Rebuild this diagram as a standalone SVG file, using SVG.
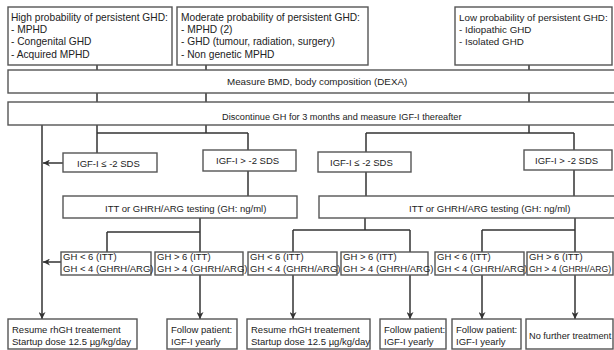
<svg xmlns="http://www.w3.org/2000/svg" width="614" height="350" viewBox="0 0 614 350">
<style>
.box{fill:#fff;stroke:#555;stroke-width:1.4}
.t{font-family:"Liberation Sans",Arial,sans-serif;font-size:9.5px;fill:#222}
.tt{font-size:10.2px}
.c{stroke:#333;stroke-width:1.5;fill:none}
</style>
<defs>
<marker id="ad" viewBox="0 0 10 10" refX="10" refY="5" markerWidth="7" markerHeight="7" markerUnits="userSpaceOnUse" orient="auto">
<path d="M0,0 L10,5 L0,10 L3,5 z" fill="#333"/>
</marker>
</defs>
<rect width="614" height="350" fill="#fff"/>
<g id="connectors">
<path class="c" d="M97,65V70M206,65V70M529,65V70"/>
<path class="c" d="M97,93V102M206,93V102M529,93V102"/>
<path class="c" d="M42,125V319" marker-end="url(#ad)"/>
<path class="c" d="M97,125V153M206,125V133M97,133H248M248,133V150"/>
<path class="c" d="M529,125V133M366,133H574M366,133V152M574,133V150"/>
<path class="c" d="M63,163H43" marker-end="url(#ad)"/>
<path class="c" d="M248,171V196M366,172V196M574,170V196"/>
<path class="c" d="M200,218V252M107,232H200M107,232V252"/>
<path class="c" d="M61,262H43" marker-end="url(#ad)"/>
<path class="c" d="M200,275V319" marker-end="url(#ad)"/>
<path class="c" d="M365,218V230M293,230H410M293,230V252M410,230V252M575,218V252M482,230H575M482,230V252"/>
<path class="c" d="M293,275V319" marker-end="url(#ad)"/>
<path class="c" d="M410,275V319" marker-end="url(#ad)"/>
<path class="c" d="M482,275V319" marker-end="url(#ad)"/>
<path class="c" d="M575,275V319" marker-end="url(#ad)"/>
</g>
<g id="high"><rect class="box" x="8" y="7" width="164" height="58"/>
<text class="t tt" x="11" y="20.5">High probability of persistent GHD:</text>
<text class="t tt" x="11" y="33">- MPHD</text>
<text class="t tt" x="11" y="45">- Congenital GHD</text>
<text class="t tt" x="11" y="57.5">- Acquired MPHD</text></g>
<g id="moderate"><rect class="box" x="177" y="7" width="191" height="58"/>
<text class="t tt" x="181" y="20.5">Moderate probability of persistent GHD:</text>
<text class="t tt" x="181" y="33">- MPHD (2)</text>
<text class="t tt" x="181" y="45">- GHD (tumour, radiation, surgery)</text>
<text class="t tt" x="181" y="57.5">- Non genetic MPHD</text></g>
<g id="low"><rect class="box" x="455" y="7" width="157" height="58"/>
<text class="t" x="459" y="20.5" style="font-size:9.8px">Low probability of persistent GHD:</text>
<text class="t" x="459" y="33" style="font-size:9.8px">- Idiopathic GHD</text>
<text class="t" x="459" y="45" style="font-size:9.8px">- Isolated GHD</text></g>
<g id="measure"><rect class="box" x="8" y="70" width="612" height="23"/>
<text class="t" x="227" y="85" style="font-size:9.8px">Measure BMD, body composition (DEXA)</text></g>
<g id="discontinue"><rect class="box" x="8" y="102" width="612" height="23"/>
<text class="t" x="222" y="120" style="font-size:9.2px">Discontinue GH for 3 months and measure IGF-I thereafter</text></g>
<g id="igf-le-left"><rect class="box" x="63" y="153" width="94" height="19"/>
<text class="t" x="77" y="166.5">IGF-I ≤ -2 SDS</text></g>
<g id="igf-gt-left"><rect class="box" x="203" y="150" width="93" height="21"/>
<text class="t" x="216" y="164">IGF-I &gt; -2 SDS</text></g>
<g id="igf-le-right"><rect class="box" x="318" y="152" width="93" height="20"/>
<text class="t" x="330" y="166">IGF-I ≤ -2 SDS</text></g>
<g id="igf-gt-right"><rect class="box" x="524" y="150" width="88" height="20"/>
<text class="t" x="535" y="164">IGF-I &gt; -2 SDS</text></g>
<g id="itt-left"><rect class="box" x="63" y="196" width="234" height="22"/>
<text class="t" x="105" y="211.5">ITT or GHRH/ARG testing (GH: ng/ml)</text></g>
<g id="itt-right"><rect class="box" x="319" y="196" width="300" height="22"/>
<text class="t" x="409" y="211.5">ITT or GHRH/ARG testing (GH: ng/ml)</text></g>
<g id="gh1"><rect class="box" x="61" y="252" width="90" height="23"/>
<text class="t" x="63" y="260">GH &lt; 6 (ITT)</text><text class="t" x="63" y="272">GH &lt; 4 (GHRH/ARG)</text></g>
<g id="gh2"><rect class="box" x="155" y="252" width="88" height="23"/>
<text class="t" x="157" y="260">GH &gt; 6 (ITT)</text><text class="t" x="157" y="272">GH &gt; 4 (GHRH/ARG)</text></g>
<g id="gh3"><rect class="box" x="248" y="252" width="89" height="23"/>
<text class="t" x="250" y="260">GH &lt; 6 (ITT)</text><text class="t" x="250" y="272">GH &lt; 4 (GHRH/ARG)</text></g>
<g id="gh4"><rect class="box" x="341" y="252" width="87" height="23"/>
<text class="t" x="343" y="260">GH &gt; 6 (ITT)</text><text class="t" x="343" y="272">GH &gt; 4 (GHRH/ARG)</text></g>
<g id="gh5"><rect class="box" x="435" y="252" width="89" height="23"/>
<text class="t" x="437" y="260">GH &lt; 6 (ITT)</text><text class="t" x="437" y="272">GH &lt; 4 (GHRH/ARG)</text></g>
<g id="gh6"><rect class="box" x="527" y="252" width="86" height="23"/>
<text class="t" x="529" y="260">GH &gt; 6 (ITT)</text><text class="t" x="529" y="272" style="font-size:8.9px" textLength="82" lengthAdjust="spacingAndGlyphs">GH &gt; 4 (GHRH/ARG)</text></g>
<g id="resume1"><rect class="box" x="8" y="319" width="129" height="30"/>
<text class="t" x="12" y="332.5">Resume rhGH treatement</text><text class="t" x="12" y="345">Startup dose 12.5 µg/kg/day</text></g>
<g id="follow1"><rect class="box" x="167" y="319" width="70" height="30"/>
<text class="t" x="171" y="332.5">Follow patient:</text><text class="t" x="171" y="345">IGF-I yearly</text></g>
<g id="resume2"><rect class="box" x="247" y="319" width="123" height="30"/>
<text class="t" x="251" y="332.5">Resume rhGH treatement</text><text class="t" x="251" y="345">Startup dose 12.5 µg/kg/day</text></g>
<g id="follow2"><rect class="box" x="380" y="319" width="66" height="30"/>
<text class="t" x="384" y="332.5">Follow patient:</text><text class="t" x="384" y="345">IGF-I yearly</text></g>
<g id="follow3"><rect class="box" x="452" y="319" width="69" height="30"/>
<text class="t" x="456" y="332.5">Follow patient:</text><text class="t" x="456" y="345">IGF-I yearly</text></g>
<g id="nofurther"><rect class="box" x="526" y="319" width="87" height="30"/>
<text class="t" x="529" y="339" style="font-size:9.2px">No further treatment</text></g>
</svg>
